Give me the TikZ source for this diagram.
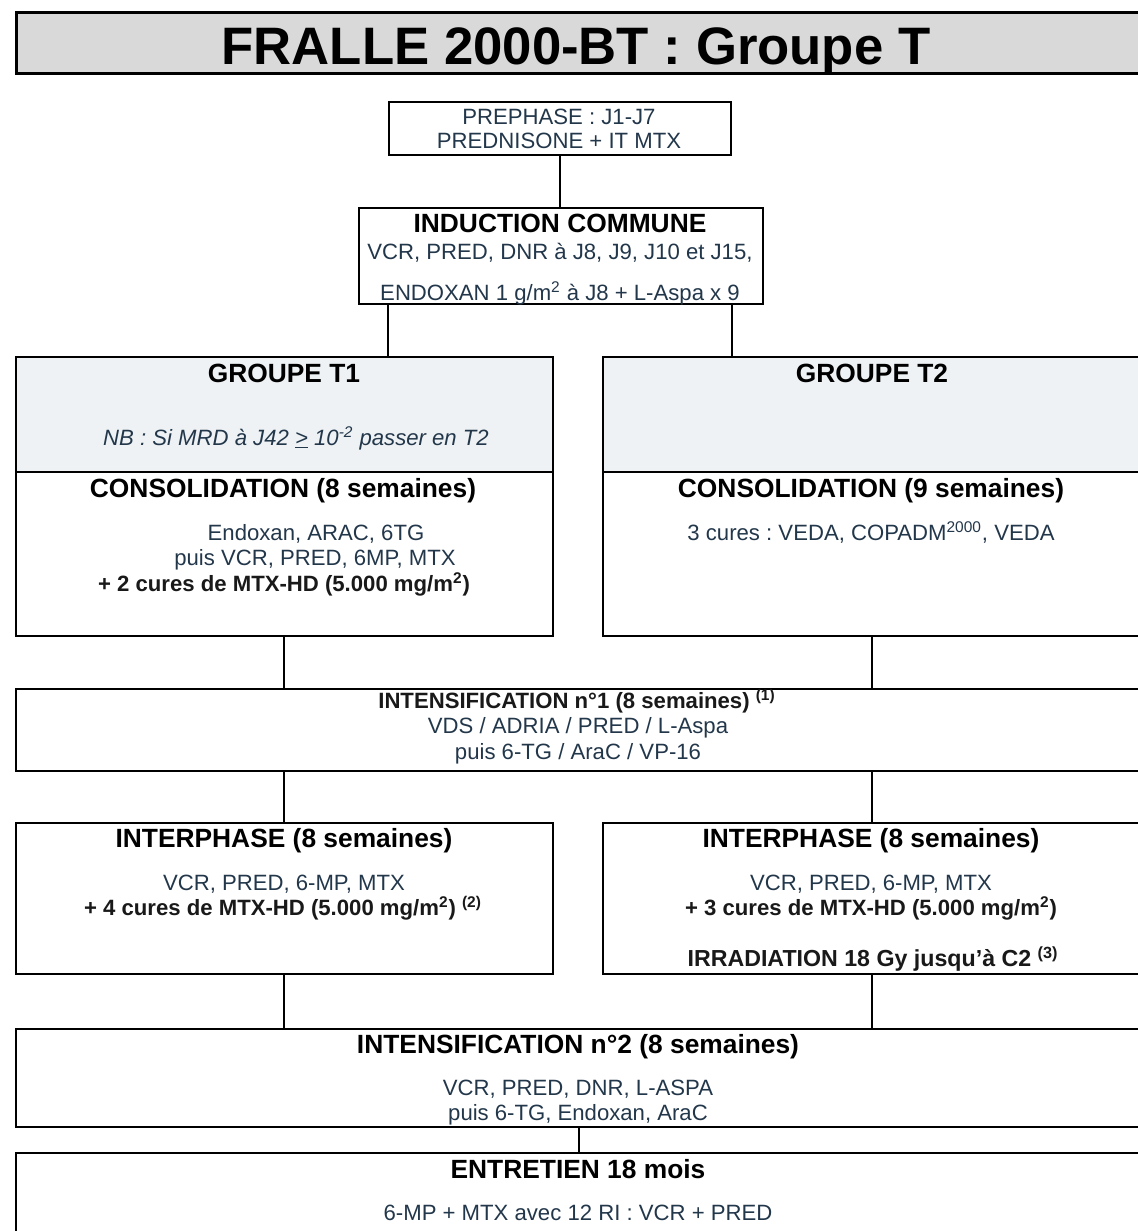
\documentclass[tikz,border=0pt]{standalone}
\usepackage{fontspec}
\setmainfont{Liberation Sans}
\frenchspacing
\definecolor{txtblue}{RGB}{35,55,75}
\definecolor{titlegray}{RGB}{217,217,217}
\definecolor{groupgray}{RGB}{238,242,244}
\tikzset{
  box/.style={draw, line width=1.1pt, inner sep=0pt, anchor=north west},
  link/.style={line width=1.1pt},
  head/.style={anchor=base, inner sep=0pt, font=\bfseries\fontsize{15}{18}\selectfont},
  txt/.style={anchor=base, inner sep=0pt, text=txtblue, font=\fontsize{12.6}{15}\selectfont},
  txtb/.style={anchor=base, inner sep=0pt, text=black!90, font=\bfseries\fontsize{12.6}{15}\selectfont},
}
\begin{document}
\begin{tikzpicture}[x=0.02cm, y=-0.02cm]
      \clip (0,0) rectangle (1138,1231);
      \fill[white] (0,0) rectangle (1138,1231);
      % boxes
      \node[box, fill=titlegray, line width=1.5pt, minimum width=22.7cm, minimum height=1.22cm] (title) at (15,11) {};
      \node[box, minimum width=6.84cm, minimum height=1.06cm] (prep) at (388,101) {};
      \node[box, minimum width=8.08cm, minimum height=1.92cm] (induc) at (358,207) {};
      \node[box, fill=groupgray, minimum width=10.74cm, minimum height=2.3cm] (t1head) at (15,356) {};
      \node[box, minimum width=10.74cm, minimum height=3.28cm] (t1cons) at (15,471) {};
      \node[box, fill=groupgray, minimum width=10.78cm, minimum height=2.3cm] (t2head) at (602,356) {};
      \node[box, minimum width=10.78cm, minimum height=3.28cm] (t2cons) at (602,471) {};
      \node[box, minimum width=22.52cm, minimum height=1.64cm] (int1) at (15,688) {};
      \node[box, minimum width=10.74cm, minimum height=3.02cm] (ip1) at (15,822) {};
      \node[box, minimum width=10.78cm, minimum height=3.02cm] (ip2) at (602,822) {};
      \node[box, minimum width=22.52cm, minimum height=1.96cm] (int2) at (15,1028) {};
      \node[box, minimum width=22.52cm, minimum height=2.2cm] (ent) at (15,1152) {};
      % texts
      \node[anchor=base, font=\bfseries\fontsize{30}{36}\selectfont] (title-t) at (576,64) {FRALLE 2000-BT : Groupe T};
      \node[txt] (prep-a) at (559,124) {PREPHASE : J1-J7};
      \node[txt] (prep-b) at (559,148) {PREDNISONE + IT MTX};
      \node[head] (induc-a) at (560,232) {INDUCTION COMMUNE};
      \node[txt] (induc-b) at (560,259) {VCR, PRED, DNR à J8, J9, J10 et J15,};
      \node[txt] (induc-c) at (560,300) {ENDOXAN 1 g/m\textsuperscript{2} à J8 + L-Aspa x 9};
      \node[head] (t1-a) at (284,382) {GROUPE T1};
      \node[txt, font=\itshape\fontsize{12.6}{15}\selectfont] (t1-b) at (296,445) {NB : Si MRD à J42 \underline{>} 10\textsuperscript{-2} passer en T2};
      \node[head] (t1-c) at (283,497) {CONSOLIDATION (8 semaines)};
      \node[txt] (t1-d) at (316,540) {Endoxan, ARAC, 6TG};
      \node[txt] (t1-e) at (315,565) {puis VCR, PRED, 6MP, MTX};
      \node[txtb] (t1-f) at (284,591) {+ 2 cures de MTX-HD (5.000 mg/m\textsuperscript{2})};
      \node[head] (t2-a) at (872,382) {GROUPE T2};
      \node[head] (t2-c) at (871,497) {CONSOLIDATION (9 semaines)};
      \node[txt] (t2-d) at (871,540) {3 cures : VEDA, COPADM\textsuperscript{2000}, VEDA};
      \node[txtb] (int1-a) at (577,708) {INTENSIFICATION n°1 (8 semaines) \textsuperscript{(1)}};
      \node[txt] (int1-b) at (578,733) {VDS / ADRIA / PRED / L-Aspa};
      \node[txt] (int1-c) at (578,759) {puis 6-TG / AraC / VP-16};
      \node[head] (ip1-a) at (284,847) {INTERPHASE (8 semaines)};
      \node[txt] (ip1-b) at (284,890) {VCR, PRED, 6-MP, MTX};
      \node[txtb] (ip1-c) at (283,915) {+ 4 cures de MTX-HD (5.000 mg/m\textsuperscript{2}) \textsuperscript{(2)}};
      \node[head] (ip2-a) at (871,847) {INTERPHASE (8 semaines)};
      \node[txt] (ip2-b) at (871,890) {VCR, PRED, 6-MP, MTX};
      \node[txtb] (ip2-c) at (871,915) {+ 3 cures de MTX-HD (5.000 mg/m\textsuperscript{2})};
      \node[txtb, font=\bfseries\fontsize{13.2}{16}\selectfont] (ip2-d) at (873,966) {IRRADIATION 18 Gy jusqu'à C2 \textsuperscript{(3)}};
      \node[head] (int2-a) at (578,1053) {INTENSIFICATION n°2 (8 semaines)};
      \node[txt] (int2-b) at (578,1095) {VCR, PRED, DNR, L-ASPA};
      \node[txt] (int2-c) at (578,1120) {puis 6-TG, Endoxan, AraC};
      \node[head] (ent-a) at (578,1178) {ENTRETIEN 18 mois};
      \node[txt] (ent-b) at (578,1220) {6-MP + MTX avec 12 RI : VCR + PRED};
      % links
      \draw[link] (prep.south) -- (prep.south |- induc.north);
      \draw[link] (prep.south west |- induc.south) -- (prep.south west |- t1head.north);
      \draw[link] (prep.south east |- induc.south) -- (prep.south east |- t2head.north);
      \draw[link] (t1cons.south) -- (t1cons.south |- int1.north);
      \draw[link] (t2cons.south) -- (t2cons.south |- int1.north);
      \draw[link] (int1.south -| ip1.north) -- (ip1.north);
      \draw[link] (int1.south -| ip2.north) -- (ip2.north);
      \draw[link] (ip1.south) -- (ip1.south |- int2.north);
      \draw[link] (ip2.south) -- (ip2.south |- int2.north);
      \draw[link] (int2.south) -- (ent.north);
\end{tikzpicture}
\end{document}
